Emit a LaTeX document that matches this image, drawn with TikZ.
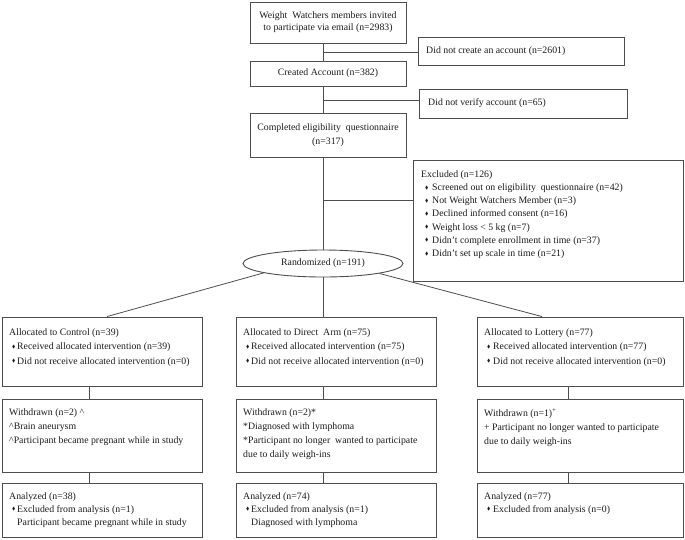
\documentclass[tikz,border=0pt]{standalone}
\usepackage{fontspec}
\setmainfont{Liberation Serif}
\usepackage{amssymb}
\usetikzlibrary{shapes.geometric}
\definecolor{ln}{HTML}{4D4D4D}
\definecolor{tx}{HTML}{1A1A1A}
\newcommand\fs[1]{\fontsize{9.8pt}{#1pt}\selectfont}
\newcommand\bul{\raisebox{1.4pt}{\scalebox{0.5}{$\blacklozenge$}}}
% bullet line: #1 indent of bullet, #2 width bullet->text, #3 text
\newcommand\bli[3]{\hspace*{#1pt}\makebox[#2pt][l]{\bul}#3}
\begin{document}
\begin{tikzpicture}[x=1pt,y=-1pt,
  box/.style={draw=ln, line width=0.9pt, inner sep=0, text=tx},
  txt/.style={inner sep=0, anchor=north west, align=left, text=tx},
  conn/.style={draw=ln, line width=0.8pt}]
\useasboundingbox (0,0) rectangle (685,539);

% top column
\node[box, minimum width=156pt, minimum height=41pt, align=center, font=\fs{12}] (inv) at (328,22.5)
  {Weight~ Watchers members invited\\to participate via email (n=2983)};
\node[box, minimum width=206pt, minimum height=28pt] (nocr) at (521,51) {};
\node[txt, anchor=west, font=\fs{12}] (nocrt) at (426,51) {Did not create an account (n=2601)};
\node[box, minimum width=156pt, minimum height=25pt, font=\fs{12}] (crea) at (328,73.5) {Created Account (n=382)};
\node[box, minimum width=208pt, minimum height=29pt] (nover) at (523,103.5) {};
\node[txt, anchor=west, font=\fs{12}] (novert) at (428,103) {Did not verify account (n=65)};
\node[box, minimum width=156pt, minimum height=44pt, align=center, font=\fs{14}] (comp) at (328,135)
  {Completed eligibility~ questionnaire\\(n=317)};

\node[box, minimum width=270pt, minimum height=121pt] (excl) at (548,220.5) {};
\node[txt, font=\fs{13.2}] (exclt) at (421,170.3) {Excluded (n=126)\\
  \bli{4}{7}{Screened out on eligibility~ questionnaire (n=42)}\\
  \bli{4}{7}{Not Weight Watchers Member (n=3)}\\
  \bli{4}{7}{Declined informed consent (n=16)}\\
  \bli{4}{7}{Weight loss < 5 kg (n=7)}\\
  \bli{4}{7}{Didn't complete enrollment in time (n=37)}\\
  \bli{4}{7}{Didn't set up scale in time (n=21)}};

\node[draw=ln, line width=0.9pt, ellipse, inner sep=0, minimum width=160pt, minimum height=27pt, font=\fs{12}, text=tx] (rand) at (323,263.5) {Randomized (n=191)};

% allocation row
\node[box, minimum width=200pt, minimum height=69pt] (ctrl) at (102,351.5) {};
\node[box, minimum width=200pt, minimum height=69pt] (dir) at (336,351.5) {};
\node[box, minimum width=206pt, minimum height=69pt] (lot) at (580,351.5) {};
\node[txt, font=\fs{14.5}] (ctrlt) at (9,328.3) {Allocated to Control (n=39)\\
  \bli{3}{5}{Received allocated intervention (n=39)}\\
  \bli{3}{5}{Did not receive allocated intervention (n=0)}};
\node[txt, font=\fs{14.5}] (dirt) at (243,328.3) {Allocated to Direct~ Arm (n=75)\\
  \bli{3}{5}{Received allocated intervention (n=75)}\\
  \bli{3}{5}{Did not receive allocated intervention (n=0)}};
\node[txt, font=\fs{14.5}] (lott) at (484,328.3) {Allocated to Lottery (n=77)\\
  \bli{3}{6}{Received allocated intervention (n=77)}\\
  \bli{3}{6}{Did not receive allocated intervention (n=0)}};

% withdrawn row
\node[box, minimum width=200pt, minimum height=73pt] (wd1) at (102,435.5) {};
\node[box, minimum width=200pt, minimum height=73pt] (wd2) at (336,435.5) {};
\node[box, minimum width=206pt, minimum height=73pt] (wd3) at (580,435.5) {};
\node[txt, font=\fs{14}] (wd1t) at (9,408.3) {Withdrawn (n=2) \textasciicircum\\
  \textasciicircum Brain aneurysm\\
  \textasciicircum Participant became pregnant while in study};
\node[txt, font=\fs{14}] (wd2t) at (243,408.3) {Withdrawn (n=2)*\\
  *Diagnosed with lymphoma\\
  *Participant no longer~ wanted to participate\\
  due to daily weigh-ins};
\node[txt, font=\fs{14}] (wd3t) at (484,408.3) {Withdrawn (n=1)\textsuperscript{+}\\
  + Participant no longer wanted to participate\\
  due to daily weigh-ins};

% analyzed row
\node[box, minimum width=200pt, minimum height=54pt] (an1) at (102,510) {};
\node[box, minimum width=200pt, minimum height=54pt] (an2) at (336,510) {};
\node[box, minimum width=206pt, minimum height=54pt] (an3) at (580,510) {};
\node[txt, font=\fs{13}] (an1t) at (9,492.3) {Analyzed (n=38)\\
  \bli{3}{5}{Excluded from analysis (n=1)}\\
  \hspace*{8pt}Participant became pregnant while in study};
\node[txt, font=\fs{13}] (an2t) at (243,492.3) {Analyzed (n=74)\\
  \bli{3}{5}{Excluded from analysis (n=1)}\\
  \hspace*{8pt}Diagnosed with lymphoma};
\node[txt, font=\fs{13}] (an3t) at (484,492.3) {Analyzed (n=77)\\
  \bli{3}{6}{Excluded from analysis (n=0)}};

% connectors
\coordinate (t52) at (323,52);
\coordinate (t100) at (323,100);
\coordinate (t200) at (323,200);
\draw[conn] (inv.south -| t52) -- (crea.north -| t52);
\draw[conn] (t52) -- (t52 -| nocr.west);
\draw[conn] (crea.south -| t100) -- (comp.north -| t100);
\draw[conn] (t100) -- (t100 -| nover.west);
\draw[conn] (comp.south -| rand.north) -- (rand.north);
\draw[conn] (t200) -- (t200 -| excl.west);
\draw[conn] (rand.189) -- ([xshift=5pt]ctrl.north);
\draw[conn] (rand.south) -- (rand.south |- dir.north);
\draw[conn] (rand.350) -- ([xshift=-38pt]lot.north);
\draw[conn] ([xshift=-13pt]ctrl.south) -- ([xshift=-13pt]wd1.north);
\draw[conn] ([xshift=-13pt]dir.south) -- ([xshift=-13pt]wd2.north);
\draw[conn] ([xshift=-12pt]lot.south) -- ([xshift=-12pt]wd3.north);
\draw[conn] ([xshift=-13pt]wd1.south) -- ([xshift=-13pt]an1.north);
\draw[conn] ([xshift=-13pt]wd2.south) -- ([xshift=-13pt]an2.north);
\draw[conn] ([xshift=-12pt]wd3.south) -- ([xshift=-12pt]an3.north);
\end{tikzpicture}
\end{document}
